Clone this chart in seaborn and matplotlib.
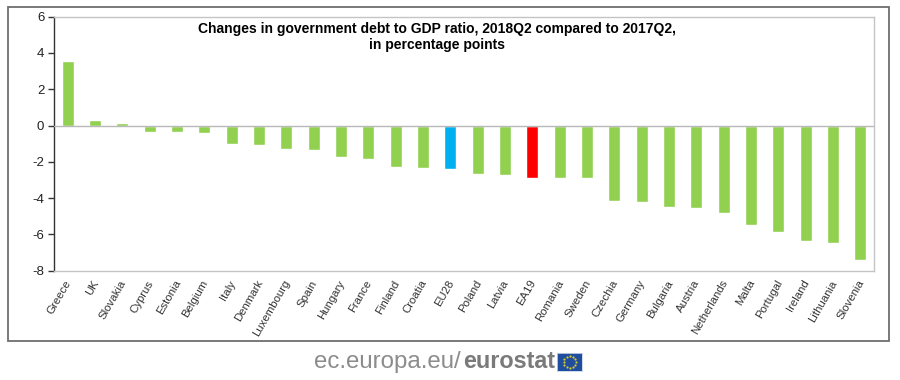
import numpy as np
import pandas as pd
import seaborn as sns
import matplotlib
matplotlib.use("Agg")
import matplotlib.pyplot as plt
from matplotlib.patches import Rectangle
from matplotlib.transforms import ScaledTranslation

countries = ['Greece', 'UK', 'Slovakia', 'Cyprus', 'Estonia', 'Belgium', 'Italy', 'Denmark',
             'Luxembourg', 'Spain', 'Hungary', 'France', 'Finland', 'Croatia', 'EU28', 'Poland',
             'Latvia', 'EA19', 'Romania', 'Sweden', 'Czechia', 'Germany', 'Bulgaria', 'Austria',
             'Netherlands', 'Malta', 'Portugal', 'Ireland', 'Lithuania', 'Slovenia']
changes = [3.55, 0.28, 0.12, -0.33, -0.33, -0.43, -1.0, -1.05, -1.28, -1.33, -1.75, -1.83,
           -2.3, -2.32, -2.4, -2.65, -2.72, -2.9, -2.9, -2.9, -4.15, -4.2, -4.47, -4.53,
           -4.8, -5.5, -5.85, -6.35, -6.47, -7.4]
bar_colors = {'EU28': '#00b0f0', 'EA19': '#ff0000'}
title = 'Changes in government debt to GDP ratio, 2018Q2 compared to 2017Q2,\nin percentage points'

sns.set_style("white")
plt.rcParams['font.family'] = ['Liberation Sans', 'DejaVu Sans']
plt.rcParams['axes.unicode_minus'] = False

df = pd.DataFrame({'country': countries, 'change': changes})
palette = {c: bar_colors.get(c, '#92d050') for c in countries}

W, H = 900, 380
fig = plt.figure(figsize=(W / 100, H / 100), dpi=100, facecolor='white')
ax = fig.add_axes([54 / W, 1 - 270.7 / H, 820 / W, 254 / H])

sns.barplot(data=df, x='country', y='change', hue='country', palette=palette, legend=False,
            width=0.43, saturation=1, ax=ax)

ax.set_xlim(-0.5, len(countries) - 0.5)
ax.set_ylim(-8, 6)
ax.set_yticks(range(-8, 7, 2))
ax.set_xlabel('')
ax.set_ylabel('')
ax.tick_params(axis='y', left=True, length=4, width=1, color='#333333', labelsize=9.5,
               labelcolor='#222222', pad=3)
ax.tick_params(axis='x', bottom=False, pad=2)
shift = ScaledTranslation(-3 / 100, 0, fig.dpi_scale_trans)
for lab in ax.get_xticklabels():
    lab.set_rotation(60)
    lab.set_ha('right')
    lab.set_rotation_mode('anchor')
    lab.set_fontsize(8.2)
    lab.set_color('#333333')
    lab.set_transform(lab.get_transform() + shift)

for side in ['top', 'right', 'bottom']:
    ax.spines[side].set_color('#c4c4c4')
    ax.spines[side].set_linewidth(1)
ax.spines['left'].set_color('#333333')
ax.spines['left'].set_linewidth(1)
ax.axhline(0, color='#b8b8b8', lw=1, zorder=3)

fig.text(437 / W, 1 - 37 / H, title, ha='center', va='center', fontsize=10, fontweight='bold',
         color='black', linespacing=1.25)

# outer frame
fig.add_artist(Rectangle((7.5 / W, 1 - 340.5 / H), 881 / W, 334 / H, transform=fig.transFigure,
                         fill=False, ec='#6e6e6e', lw=1.3))

# footer logo
logo = fig.text(314 / W, 1 - 362 / H, 'ec.europa.eu/', ha='left', va='center', fontsize=17.3, color='#8c8c8c')
fig.canvas.draw()
bb = logo.get_window_extent()
fig.text((bb.x1 + 2) / W, 1 - 362 / H, 'eurostat', ha='left', va='center', fontsize=16.8,
         fontweight='bold', color='#7a7a7a')
flag = fig.add_axes([557 / W, 1 - 371 / H, 25 / W, 18 / H], facecolor='#1f4e9e')
flag.set_xticks([])
flag.set_yticks([])
for s in flag.spines.values():
    s.set_color('#c9d3e6')
    s.set_linewidth(0.6)
flag.set_xlim(-12.5, 12.5)
flag.set_ylim(-9, 9)
angles = np.deg2rad(np.arange(0, 360, 30))
flag.scatter(6 * np.cos(angles), 6 * np.sin(angles), s=2.5, color='#d9c92a', linewidths=0)

fig.savefig('out.png', dpi=100)
